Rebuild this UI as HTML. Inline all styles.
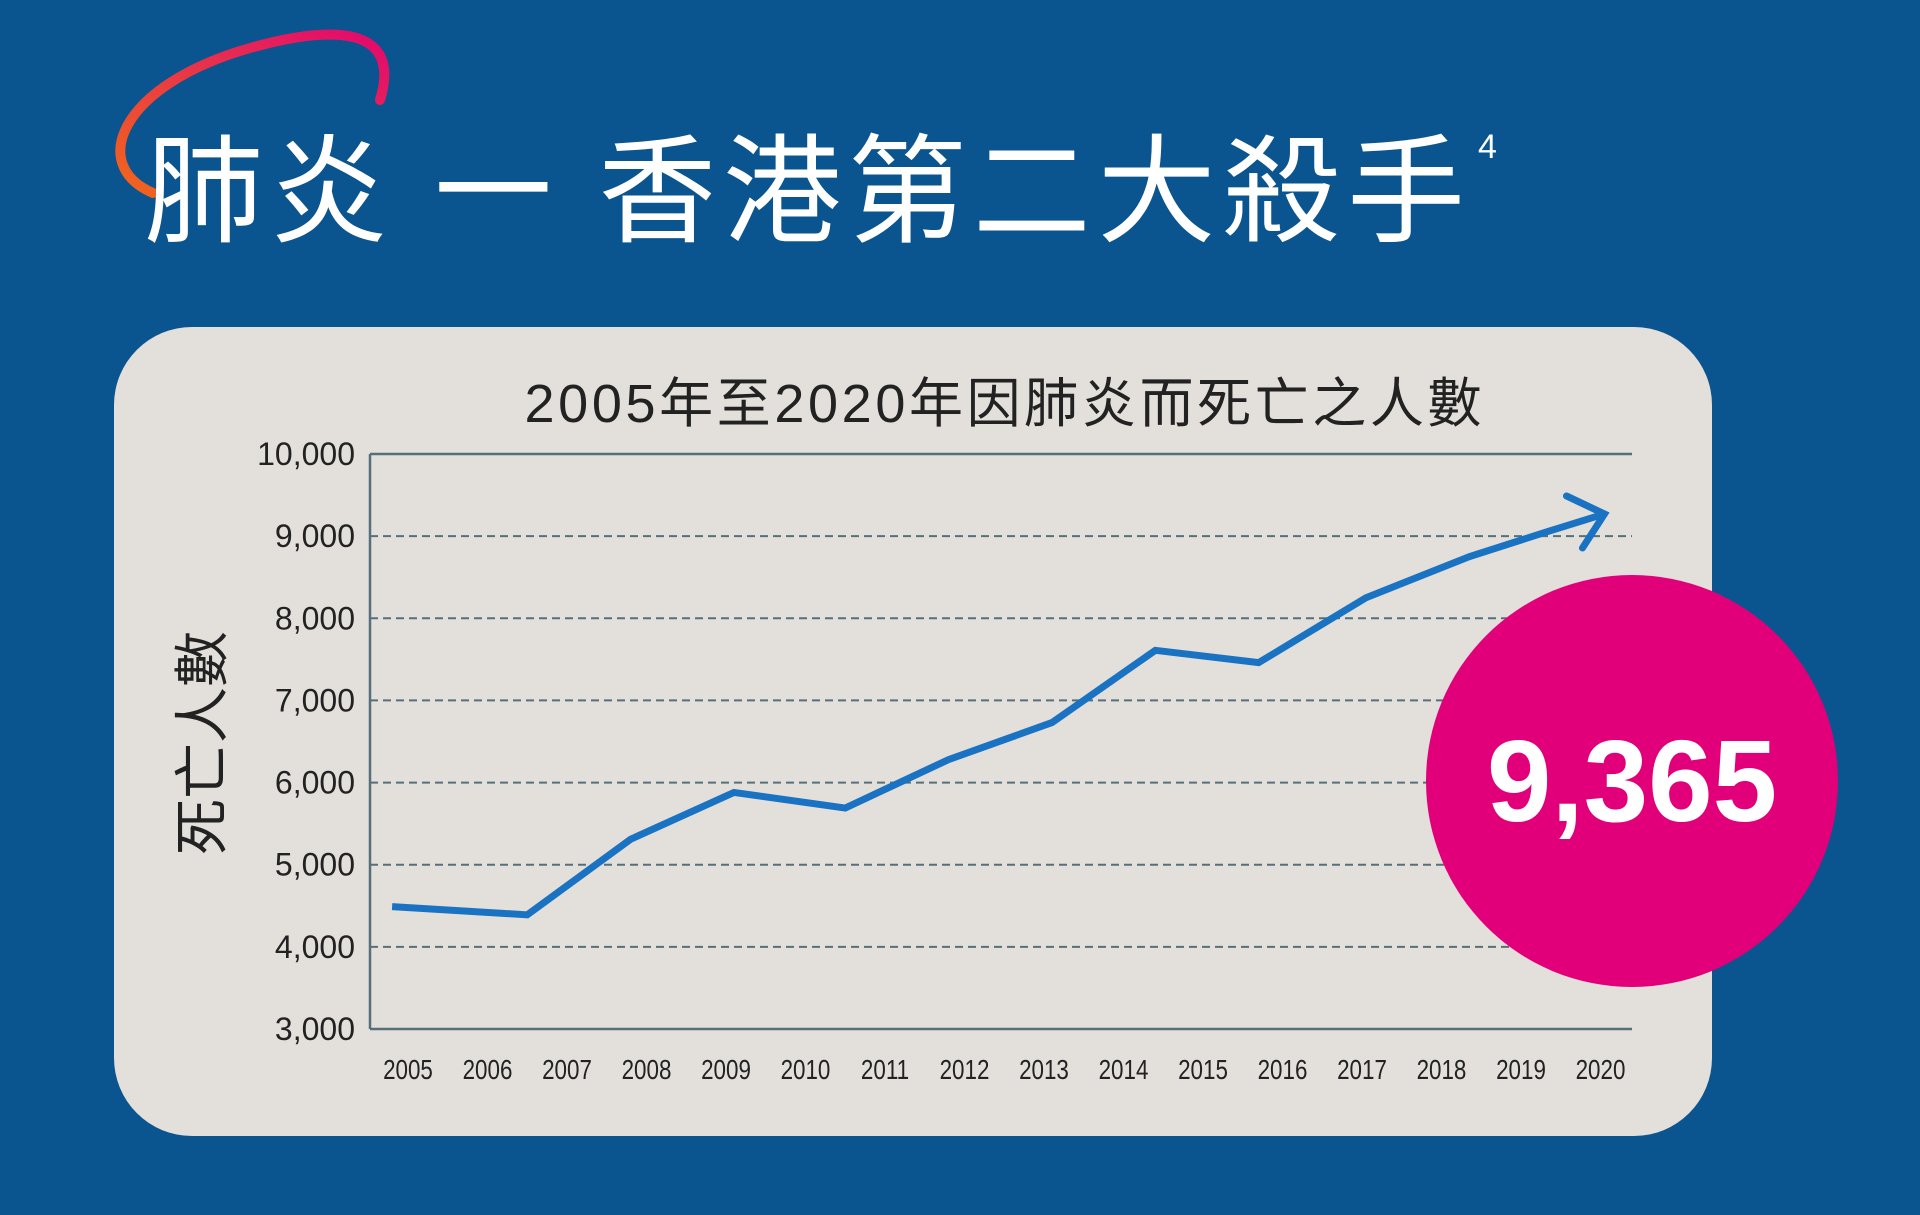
<!DOCTYPE html>
<html><head><meta charset="utf-8">
<style>
html,body{margin:0;padding:0;width:1920px;height:1215px;overflow:hidden;background:#0a548f;}
svg{display:block}
</style></head>
<body>
<svg width="1920" height="1215" viewBox="0 0 1920 1215">
<defs>
<linearGradient id="arcg" x1="0" y1="1" x2="1" y2="0">
<stop offset="0" stop-color="#f0661c"/><stop offset="1" stop-color="#e2086f"/>
</linearGradient>
</defs>
<rect width="1920" height="1215" fill="#0a548f"/>
<path d="M 153 193 C 88 165, 120 85, 250 48 C 350 20, 400 35, 380 100" fill="none" stroke="url(#arcg)" stroke-width="10" stroke-linecap="round"/>
<text x="145" y="233" fill="#fff" font-size="118" font-family="'Liberation Sans','Noto Sans CJK TC',sans-serif" textLength="1320">肺炎 一 香港第二大殺手</text>
<text x="1478" y="158" fill="#fff" font-size="34" font-family="'Liberation Sans',sans-serif">4</text>
<rect x="114" y="327" width="1598" height="809" rx="78" fill="#e3dfdb"/>
<text x="1003" y="422" fill="#222" font-size="54" text-anchor="middle" textLength="957" lengthAdjust="spacing" font-family="'Liberation Sans','Noto Sans CJK TC',sans-serif">2005年至2020年因肺炎而死亡之人數</text>
<text transform="translate(222 743) rotate(-90)" fill="#222" font-size="56" text-anchor="middle" font-family="'Liberation Sans','Noto Sans CJK TC',sans-serif">死亡人數</text>
<g id="chart"></g>
<circle cx="1632" cy="781" r="206" fill="#e2007a"/>
<text x="1632" y="821" fill="#fff" font-size="116" font-weight="bold" text-anchor="middle" font-family="'Liberation Sans',sans-serif">9,365</text>
</svg>
<script>
const yTicks=[3000,4000,5000,6000,7000,8000,9000,10000];
const yTickLabels=["3,000","4,000","5,000","6,000","7,000","8,000","9,000","10,000"];
const years=[2005,2006,2007,2008,2009,2010,2011,2012,2013,2014,2015,2016,2017,2018,2019,2020];
const pointYears=[2004.8,2006.5,2007.8,2009.1,2010.5,2011.8,2013.1,2014.4,2015.7,2017.05,2018.35,2019.3,2020.05];
const pointValues=[4490,4390,5310,5880,5690,6280,6730,7610,7460,8250,8750,9045,9270];
const NS='http://www.w3.org/2000/svg';
const g=document.getElementById('chart');
const L=370,R=1632,T=454,B=1029;
const y=v=>B-(v-3000)/7000*(B-T);
const x=yr=>408+(yr-2005)*79.5;
function mk(t,a){const e=document.createElementNS(NS,t);for(const k in a)e.setAttribute(k,a[k]);g.appendChild(e);return e;}
yTicks.forEach((v,i)=>{
  const ln=mk('line',{x1:L,x2:R,y1:y(v),y2:y(v),stroke:'#55707a','stroke-width':(i==0||i==yTicks.length-1)?2.5:2,'stroke-dasharray':(i==0||i==yTicks.length-1)?'none':'8 5'});
  
  
  const t=mk('text',{x:355,y:y(v)+11,'text-anchor':'end','font-size':32,fill:'#222','font-family':'Liberation Sans,sans-serif'});
  t.textContent=yTickLabels[i];
  
  
});
const ax=mk('line',{x1:L,x2:L,y1:T,y2:B,stroke:'#55707a','stroke-width':2.5});


years.forEach(yr=>{
  const t=mk('text',{x:x(yr),y:1079,'text-anchor':'middle','font-size':28,fill:'#222','font-family':'Liberation Sans,sans-serif',transform:`translate(${x(yr)} 0) scale(0.8 1) translate(${-x(yr)} 0)`});
  t.textContent=yr;
  
  
});
const pts=pointYears.map((yr,i)=>[x(yr),y(pointValues[i])]);
const p=mk('polyline',{points:pts.map(q=>q.join(',')).join(' '),fill:'none',stroke:'#1a72c2','stroke-width':7,'stroke-linejoin':'miter'});


const [ex,ey]=pts[pts.length-1];
const ah=mk('polyline',{points:`${ex-38},${ey-18} ${ex},${ey} ${ex-22},${ey+34}`,fill:'none',stroke:'#1a72c2','stroke-width':7,'stroke-linecap':'round'});


</script>
</body></html>
